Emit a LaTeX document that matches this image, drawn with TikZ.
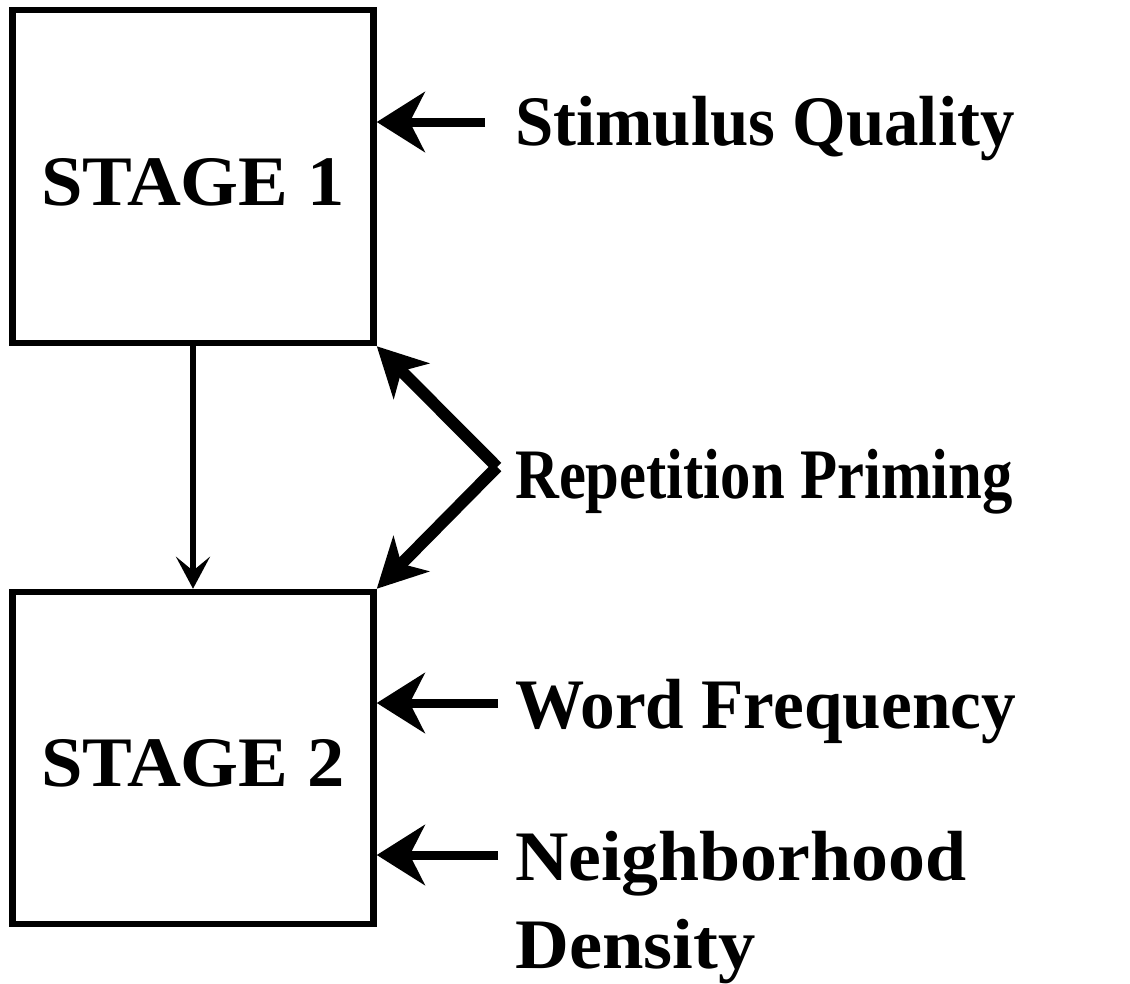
\documentclass[tikz,border=0pt]{standalone}
\usepackage{fontspec}
\setmainfont{Liberation Serif}
\usetikzlibrary{arrows.meta}
\tikzset{
  stagebox/.style={draw, line width=6.5pt, minimum width=361pt, minimum height=333pt,
    inner sep=0pt, text height=57pt, text depth=0pt, font=\fontsize{71}{85}\selectfont\bfseries},
  factor/.style={anchor=base west, inner sep=0pt, align=left,
    font=\fontsize{71}{88}\selectfont\bfseries},
  feed/.style={line width=9pt, -{Stealth[length=48pt, width=60pt, inset=15pt]}},
  prime/.style={line width=12pt, -{Stealth[length=49pt, width=50pt, inset=14pt]}},
  flow/.style={line width=6pt, -{Stealth[length=32pt, width=34pt, inset=14pt]}},
}

\begin{document}
\begin{tikzpicture}[x=1pt, y=-1pt]
    \useasboundingbox (0,0) rectangle (1130,983);
    % the two stages
    \node[stagebox] (stage1) at (193,176.5) {\scalebox{1.05}[1]{STAGE 1}};
    \node[stagebox, minimum height=332pt] (stage2) at (193,758) {\scalebox{1.05}[1]{STAGE 2}};
    \draw[flow] (stage1) -- (stage2);
    % factors
    \node[factor] (sq) at (515,145) {\scalebox{0.97}[1]{Stimulus Quality}};
    \node[factor] (rp) at (515,498) {\scalebox{0.855}[1]{Repetition Priming}};
    \node[factor] (wf) at (515,728) {\scalebox{0.975}[1]{Word Frequency}};
    \node[factor] (nd) at (515,968) {\scalebox{1.04}[1]{Neighborhood}\\\scalebox{1.05}[1]{Density}};
    % where each factor acts
    \coordinate (sq-in) at (485,122);
    \coordinate (rp-in) at (497,467);
    \coordinate (wf-in) at (498,703);
    \coordinate (nd-in) at (498,855);
    \draw[feed] (sq-in) -- (sq-in -| stage1.east);
    \draw[prime] (rp-in) -- (stage1.south east);
    \draw[prime] (rp-in) -- (stage2.north east);
    \draw[feed] (wf-in) -- (wf-in -| stage2.east);
    \draw[feed] (nd-in) -- (nd-in -| stage2.east);
\end{tikzpicture}
\end{document}
